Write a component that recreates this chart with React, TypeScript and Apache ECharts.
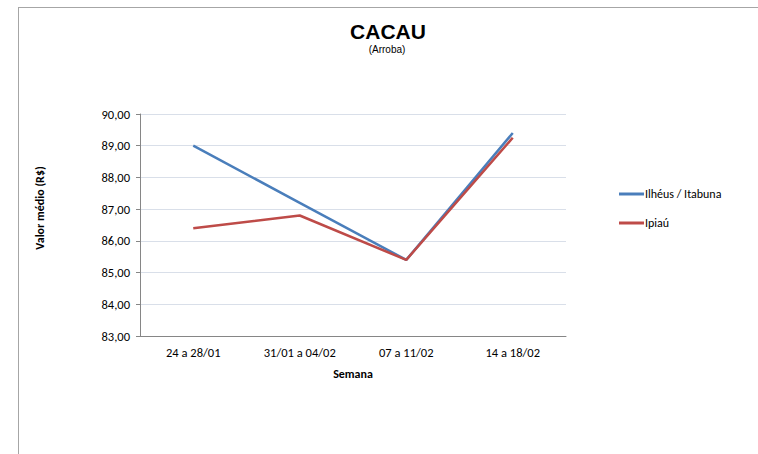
import React, { useEffect, useRef } from "react";
import * as echarts from "echarts";

const categories = ["24 a 28/01", "31/01 a 04/02", "07 a 11/02", "14 a 18/02"];
const ilheusItabuna = [89.0, 87.2, 85.4, 89.4];
const ipiau = [86.4, 86.8, 85.4, 89.25];
const seriesNames = ["Ilhéus / Itabuna", "Ipiaú"];
const yMin = 83;
const yMax = 90;
const yStep = 1;

const FONT = "Carlito, Lato, 'Open Sans', sans-serif";

export default function App() {
  const ref = useRef<HTMLDivElement>(null);
  useEffect(() => {
    if (!ref.current) return;
    const chart = echarts.init(ref.current, undefined, { renderer: "svg" });
    chart.setOption({
      animation: false,
      backgroundColor: "#ffffff",
      grid: { left: 140, right: 192, top: 114, bottom: 118 },
      legend: {
        orient: "vertical",
        left: 614,
        top: 183,
        itemWidth: 25,
        itemHeight: 3,
        itemGap: 17,
        icon: "rect",
        textStyle: { fontFamily: FONT, fontSize: 12, color: "#000", padding: [0, 0, 0, -4] },
        data: seriesNames,
      },
      xAxis: {
        type: "category",
        data: categories,
        boundaryGap: true,
        name: "Semana",
        nameLocation: "middle",
        nameGap: 32,
        nameTextStyle: { fontFamily: FONT, fontSize: 12, fontWeight: "bold", color: "#000" },
        axisLine: { lineStyle: { color: "#868686", width: 1 } },
        axisTick: { show: false },
        axisLabel: { fontFamily: FONT, fontSize: 12.5, color: "#000", margin: 10 },
      },
      yAxis: {
        type: "value",
        min: yMin,
        max: yMax,
        interval: yStep,
        axisLine: { show: true, lineStyle: { color: "#868686", width: 1 } },
        axisTick: { show: true, length: 4, lineStyle: { color: "#868686" } },
        axisLabel: {
          fontFamily: FONT,
          fontSize: 12.5,
          color: "#000",
          margin: 10,
          formatter: (v: number) => v.toFixed(2).replace(".", ","),
        },
        splitLine: { lineStyle: { color: "#d9dfe9", width: 1 } },
      },
      series: [
        {
          name: seriesNames[0],
          type: "line",
          data: ilheusItabuna,
          symbol: "none",
          lineStyle: { color: "#4a7ebb", width: 2.5 },
          itemStyle: { color: "#4a7ebb" },
          z: 3,
        },
        {
          name: seriesNames[1],
          type: "line",
          data: ipiau,
          symbol: "none",
          lineStyle: { color: "#be4b48", width: 2.5 },
          itemStyle: { color: "#be4b48" },
          z: 4,
        },
      ],
      graphic: [
        { type: "line", shape: { x1: 18.5, y1: 7.5, x2: 18.5, y2: 454 }, style: { stroke: "#a6a6a6", lineWidth: 1 } },
        { type: "line", shape: { x1: 18, y1: 7.5, x2: 758, y2: 7.5 }, style: { stroke: "#a6a6a6", lineWidth: 1 } },
        {
          type: "text",
          x: 388,
          y: 31,
          style: {
            text: "CACAU",
            fontFamily: "'Liberation Sans', Arial, sans-serif",
            fontWeight: "bold",
            fontSize: 21,
            fill: "#000",
            align: "center",
            verticalAlign: "middle",
          },
        },
        {
          type: "text",
          x: 387,
          y: 49,
          style: {
            text: "(Arroba)",
            fontFamily: "'Liberation Sans', Arial, sans-serif",
            fontSize: 10,
            fill: "#000",
            align: "center",
            verticalAlign: "middle",
          },
        },
        {
          type: "text",
          x: 40,
          y: 208,
          rotation: Math.PI / 2,
          style: {
            text: "Valor médio (R$)",
            fontFamily: FONT,
            fontWeight: "bold",
            fontSize: 12,
            fill: "#000",
            align: "center",
            verticalAlign: "middle",
          },
        },
      ],
    });
    return () => chart.dispose();
  }, []);
  return (
    <div
      ref={ref}
      style={{ position: "absolute", left: 0, top: 0, width: 758, height: 454 }}
    />
  );
}
